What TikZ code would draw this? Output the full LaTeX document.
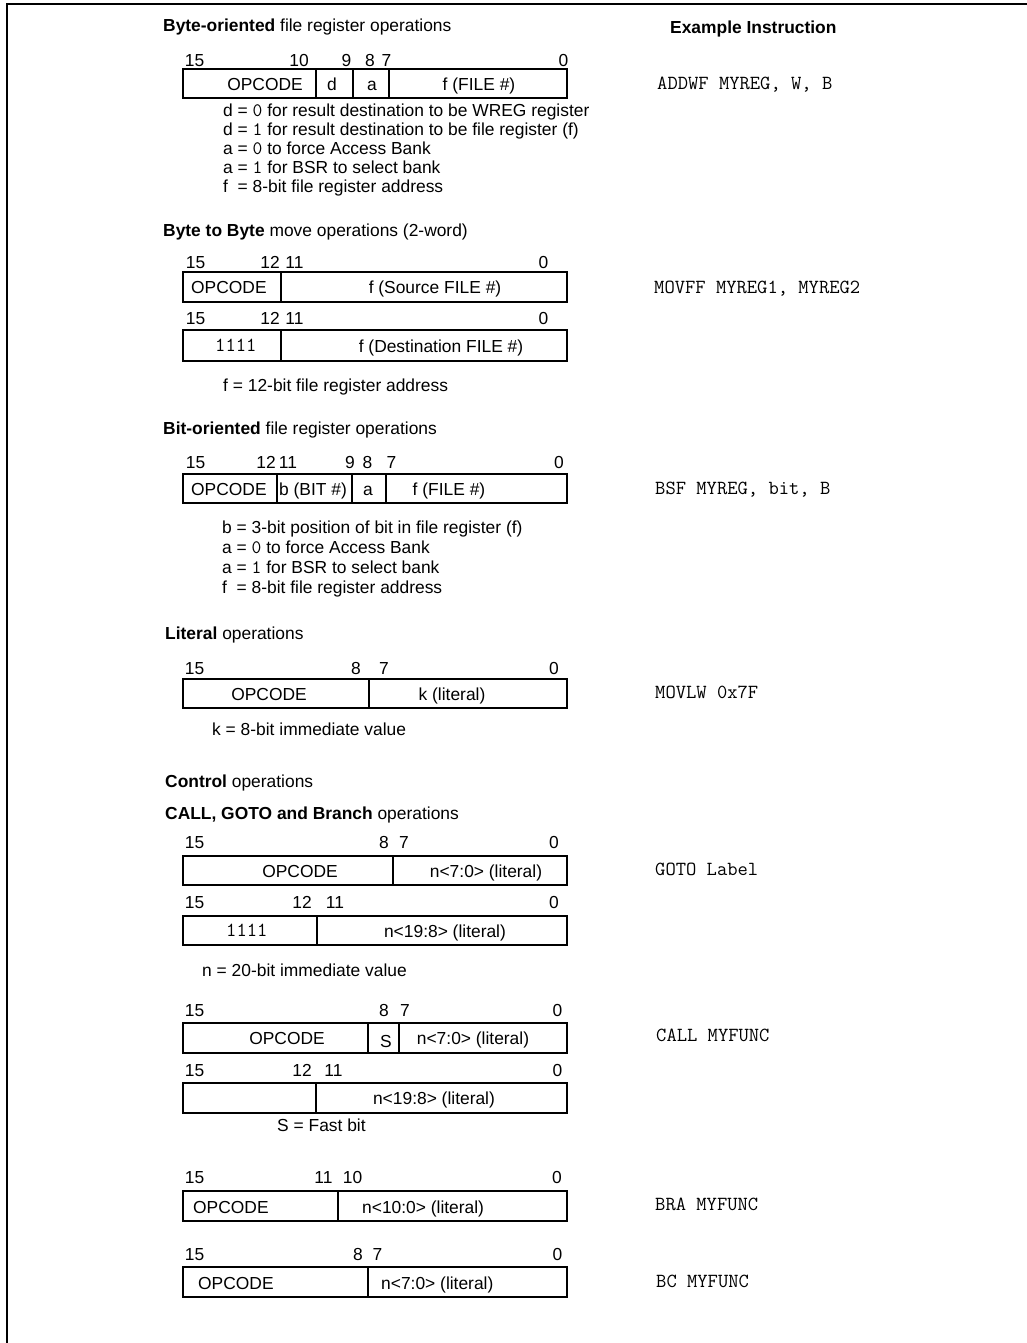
\documentclass[tikz,border=0pt]{standalone}
\usepackage{fontspec}
\setmainfont{Liberation Sans}
\newcommand{\mono}[1]{{\ttfamily\fontsize{19}{20}\selectfont #1}}

\begin{document}
\begin{tikzpicture}[x=1pt,y=-1pt,
  every node/.style={inner sep=0pt,font=\fontsize{17.4}{20}\selectfont,text height=12.5pt,text depth=0pt},
  lbl/.style={anchor=west},
  code/.style={anchor=west,font=\fontsize{20}{22}\selectfont\ttfamily,text height=11pt},
  field/.style={line width=1.2pt}]
\useasboundingbox (0,0) rectangle (1027,1343);
% frame
\draw[line width=1.6pt] (7,1343) -- (7,4) -- (1027,4);
\node[lbl] (hdr) at (670,27) {\textbf{Example Instruction}};

% byte-oriented
\node[lbl] (t1) at (163,25) {\textbf{Byte-oriented} file register operations};
\foreach \x/\b in {194.5/15,299/10,346.5/9,370/8,386.5/7,563.5/0}
  \node (b1-\b) at (\x,60) {\b};
\draw[field] (183,69) rectangle (567,98);
\draw[field] (316,69) -- (316,98) (353,69) -- (353,98) (389,69) -- (389,98);
\node (op1) at (265,84) {OPCODE};
\node (d1) at (332,84) {d};
\node (a1) at (372,84) {a};
\node (f1) at (479,84) {f (FILE \#)};
\node[lbl] (n1a) at (223,110) {d = \mono{0} for result destination to be WREG register};
\node[lbl] (n1b) at (223,129) {d = \mono{1} for result destination to be file register (f)};
\node[lbl] (n1c) at (223,148) {a = \mono{0} to force Access Bank};
\node[lbl] (n1d) at (223,167) {a = \mono{1} for BSR to select bank};
\node[lbl] (n1e) at (223,186) {f\ \ = 8-bit file register address};
\node[code] (ex1) at (657,84) {ADDWF MYREG, W, B};

% byte to byte
\node[lbl] (t2) at (163,230) {\textbf{Byte to Byte} move operations (2-word)};
\foreach \y/\r in {262/a,318/b}
  \foreach \x/\b in {195.5/15,270/12,294.5/11,543.5/0}
    \node (b2\r-\b) at (\x,\y) {\b};
\draw[field] (183,272) rectangle (567,302);
\draw[field] (281,272) -- (281,302);
\node[lbl] (op2) at (191,287) {OPCODE};
\node (src2) at (435,287) {f (Source FILE \#)};
\draw[field] (183,330) rectangle (567,361);
\draw[field] (281,330) -- (281,361);
\node[code] (one2) at (215,346) {1111};
\node (dst2) at (441,346) {f (Destination FILE \#)};
\node[lbl] (n2) at (223,385) {f = 12-bit file register address};
\node[code] (ex2) at (654,288) {MOVFF MYREG1, MYREG2};

% bit-oriented
\node[lbl] (t3) at (163,428) {\textbf{Bit-oriented} file register operations};
\foreach \x/\b in {195.5/15,266/12,288/11,350/9,367.5/8,391.5/7,559/0}
  \node (b3-\b) at (\x,462) {\b};
\draw[field] (183,474) rectangle (567,503);
\draw[field] (277,474) -- (277,503) (352,474) -- (352,503) (386,474) -- (386,503);
\node[lbl] (op3) at (191,489) {OPCODE};
\node[lbl] (bit3) at (279,489) {b (BIT \#)};
\node (a3) at (368,489) {a};
\node (f3) at (449,489) {f (FILE \#)};
\node[lbl] (n3a) at (222,527) {b = 3-bit position of bit in file register (f)};
\node[lbl] (n3b) at (222,547) {a = \mono{0} to force Access Bank};
\node[lbl] (n3c) at (222,567) {a = \mono{1} for BSR to select bank};
\node[lbl] (n3d) at (222,587) {f\ \ = 8-bit file register address};
\node[code] (ex3) at (655,489) {BSF MYREG, bit, B};

% literal
\node[lbl] (t4) at (165,633) {\textbf{Literal} operations};
\foreach \x/\b in {194.5/15,356/8,384/7,554/0}
  \node (b4-\b) at (\x,668) {\b};
\draw[field] (183,679) rectangle (567,708);
\draw[field] (369,679) -- (369,708);
\node (op4) at (269,694) {OPCODE};
\node (k4) at (452,694) {k (literal)};
\node[lbl] (n4) at (212,729) {k = 8-bit immediate value};
\node[code] (ex4) at (655,693) {MOVLW 0x7F};

% control
\node[lbl] (t5) at (165,781) {\textbf{Control} operations};
\node[lbl] (t6) at (165,813) {\textbf{CALL, GOTO and Branch} operations};
% goto
\foreach \x/\b in {194.5/15,384/8,404/7,554/0}
  \node (b5a-\b) at (\x,842) {\b};
\draw[field] (183,856) rectangle (567,885);
\draw[field] (393,856) -- (393,885);
\node (op5) at (300,871) {OPCODE};
\node (lo5) at (486,871) {n<7:0> (literal)};
\foreach \x/\b in {194.5/15,302/12,335/11,554/0}
  \node (b5b-\b) at (\x,902) {\b};
\draw[field] (183,916) rectangle (567,945);
\draw[field] (317,916) -- (317,945);
\node[code] (one5) at (226,931) {1111};
\node (hi5) at (445,931) {n<19:8> (literal)};
\node[lbl] (n5) at (202,970) {n = 20-bit immediate value};
\node[code] (ex5) at (655,870) {GOTO Label};
% call
\foreach \x/\b in {194.5/15,384/8,405/7,557.5/0}
  \node (b6a-\b) at (\x,1010) {\b};
\draw[field] (183,1023) rectangle (567,1053);
\draw[field] (368,1023) -- (368,1053) (399,1023) -- (399,1053);
\node (op6) at (287,1038) {OPCODE};
\node (s6) at (386,1041) {S};
\node (lo6) at (473,1038) {n<7:0> (literal)};
\foreach \x/\b in {194.5/15,302/12,333.5/11,557.5/0}
  \node (b6b-\b) at (\x,1070) {\b};
\draw[field] (183,1083) rectangle (567,1113);
\draw[field] (316,1083) -- (316,1113);
\node (hi6) at (434,1098) {n<19:8> (literal)};
\node[lbl] (n6) at (277,1125) {S = Fast bit};
\node[code] (ex6) at (656,1036) {CALL MYFUNC};
% bra
\foreach \x/\b in {194.5/15,323.5/11,352.5/10,557/0}
  \node (b7-\b) at (\x,1177) {\b};
\draw[field] (183,1191) rectangle (567,1221);
\draw[field] (338,1191) -- (338,1221);
\node[lbl] (op7) at (193,1207) {OPCODE};
\node[lbl] (n7) at (362,1207) {n<10:0> (literal)};
\node[code] (ex7) at (655,1205) {BRA MYFUNC};
% bc
\foreach \x/\b in {194.5/15,358/8,377.5/7,557.5/0}
  \node (b8-\b) at (\x,1254) {\b};
\draw[field] (183,1267) rectangle (567,1297);
\draw[field] (368,1267) -- (368,1297);
\node[lbl] (op8) at (198,1283) {OPCODE};
\node[lbl] (n8) at (381,1283) {n<7:0> (literal)};
\node[code] (ex8) at (656,1282) {BC MYFUNC};
\end{tikzpicture}
\end{document}
